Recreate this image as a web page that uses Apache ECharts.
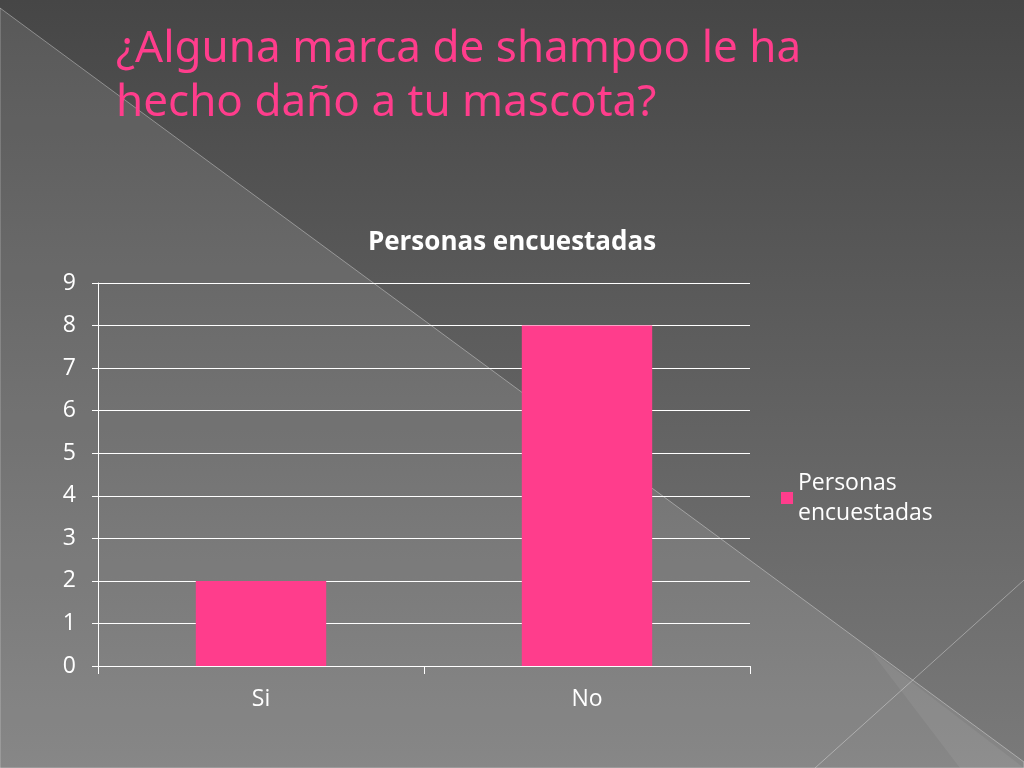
<!DOCTYPE html>
<html><head><meta charset="utf-8">
<script src="https://cdn.jsdelivr.net/npm/echarts@6/dist/echarts.min.js"></script>
<style>html,body{margin:0;padding:0}#c{width:1024px;height:768px}</style>
</head><body><div id="c"></div>
<script>
const categories = ['Si', 'No'];
const values = [2, 8];
const seriesName = 'Personas encuestadas';
const yTicks = [0, 9, 1];

const chart = echarts.init(document.getElementById('c'));
chart.setOption({
  backgroundColor: new echarts.graphic.LinearGradient(0, 0, 0, 1, [
    { offset: 0, color: '#464646' }, { offset: 1, color: '#7a7a7a' }
  ]),
  graphic: [
    { type: 'polygon', z: -10, shape: { points: [[0, 8], [1024, 762], [1024, 768], [0, 768]] },
      style: { fill: 'rgba(255,255,255,0.1)', stroke: 'rgba(255,255,255,0.35)', lineWidth: 1 } },
    { type: 'polyline', z: -10, shape: { points: [[815, 768], [1024, 580]] },
      style: { stroke: 'rgba(255,255,255,0.35)', lineWidth: 1 } },
    { type: 'polygon', z: -10, shape: { points: [[870, 650], [1024, 768], [960, 768]] },
      style: { fill: 'rgba(255,255,255,0.06)' } },
    { type: 'text', left: 116, top: 22, style: {
      text: '¿Alguna marca de shampoo le ha\nhecho daño a tu mascota?',
      fill: '#ff3d8c', font: '44px "Noto Sans", sans-serif', lineHeight: 54 } }
  ],
  title: { text: seriesName, left: 'center', top: 225, textStyle: { color: '#fff', fontSize: 26, fontWeight: 'bold', fontFamily: 'Open Sans' } },
  legend: { orient: 'vertical', left: 776, top: 463, itemWidth: 12, itemHeight: 12, icon: 'rect',
    formatter: () => 'Personas\nencuestadas',
    textStyle: { color: '#fff', fontSize: 23, fontFamily: 'Open Sans', lineHeight: 30 } },
  grid: { left: 98, right: 274, top: 283, bottom: 102 },
  xAxis: { type: 'category', data: categories,
    axisLine: { lineStyle: { color: '#fff' } },
    axisTick: { show: true, length: 8, lineStyle: { color: '#fff' } },
    axisLabel: { color: '#fff', fontSize: 23, margin: 22, fontFamily: 'Open Sans' } },
  yAxis: { type: 'value', min: yTicks[0], max: yTicks[1], interval: yTicks[2],
    axisLine: { show: true, lineStyle: { color: '#fff' } },
    axisTick: { show: true, length: 6, lineStyle: { color: '#fff' } },
    splitLine: { lineStyle: { color: '#fff' } },
    axisLabel: { color: '#fff', fontSize: 23, margin: 22, fontFamily: 'Open Sans' } },
  series: [{ name: seriesName, type: 'bar', data: values, barWidth: '40%',
    itemStyle: { color: '#ff3d8c' } }]
});
</script></body></html>
